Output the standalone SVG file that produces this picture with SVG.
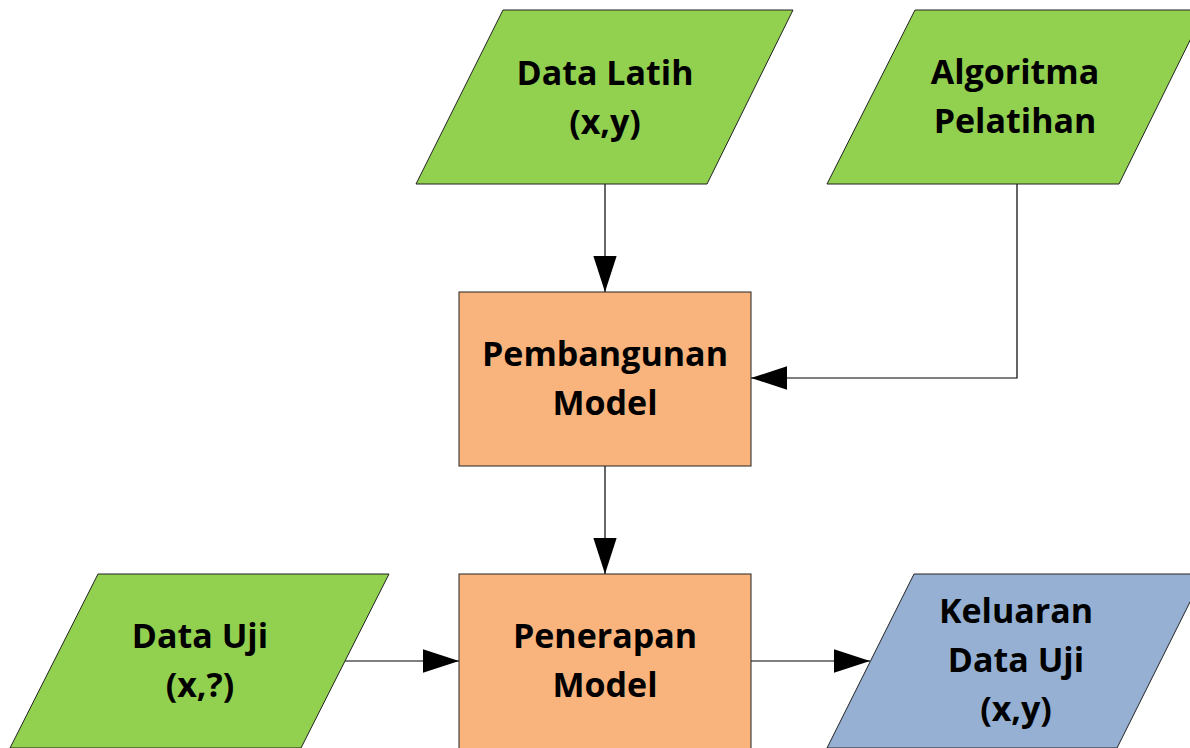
<svg xmlns="http://www.w3.org/2000/svg" width="1190" height="748" viewBox="0 0 1190 748">
<defs>
<style>
.green{fill:#92D050;stroke:#222;stroke-width:1}
.orange{fill:#F8B47C;stroke:#222;stroke-width:1}
.blue{fill:#95B0D2;stroke:#222;stroke-width:1}
.lbl{font-family:"Open Sans","DejaVu Sans",sans-serif;font-weight:bold;font-size:34px;fill:#000;text-anchor:middle}
.conn{fill:none;stroke:#000;stroke-width:1.2}
</style>
<marker id="arr" markerUnits="userSpaceOnUse" markerWidth="36" markerHeight="24" viewBox="0 0 34 22" refX="34" refY="11" orient="auto">
<path d="M0,0 L34,11 L0,22 Z" fill="#000"/>
</marker>
</defs>
<rect width="1190" height="748" fill="#fff"/>
<g id="connectors">
<path class="conn" d="M605,184 V292" marker-end="url(#arr)"/>
<path class="conn" d="M1017,184 V378 H751" marker-end="url(#arr)"/>
<path class="conn" d="M605,466 V574" marker-end="url(#arr)"/>
<path class="conn" d="M345,661 H459" marker-end="url(#arr)"/>
<path class="conn" d="M751,661 H870" marker-end="url(#arr)"/>
</g>
<g id="data-latih">
<polygon class="green" points="503,10 793,10 707,184 416,184"/>
<text class="lbl" x="605" y="85">Data Latih</text>
<text class="lbl" x="605" y="134">(x,y)</text>
</g>
<g id="algoritma-pelatihan">
<polygon class="green" points="915,10 1205,10 1119,184 827,184"/>
<text class="lbl" x="1015" y="84">Algoritma</text>
<text class="lbl" x="1015" y="133">Pelatihan</text>
</g>
<g id="pembangunan-model">
<rect class="orange" x="459" y="292" width="292" height="174"/>
<text class="lbl" x="605" y="366">Pembangunan</text>
<text class="lbl" x="605" y="415">Model</text>
</g>
<g id="data-uji">
<polygon class="green" points="98,574 389,574 301,748 10,748"/>
<text class="lbl" x="200" y="648">Data Uji</text>
<text class="lbl" x="200" y="697">(x,?)</text>
</g>
<g id="penerapan-model">
<rect class="orange" x="459" y="574" width="292" height="176"/>
<text class="lbl" x="605" y="648">Penerapan</text>
<text class="lbl" x="605" y="697">Model</text>
</g>
<g id="keluaran-data-uji">
<polygon class="blue" points="914,574 1204,574 1117,748 827,748"/>
<text class="lbl" x="1016" y="623">Keluaran</text>
<text class="lbl" x="1016" y="672">Data Uji</text>
<text class="lbl" x="1016" y="721">(x,y)</text>
</g>
</svg>
